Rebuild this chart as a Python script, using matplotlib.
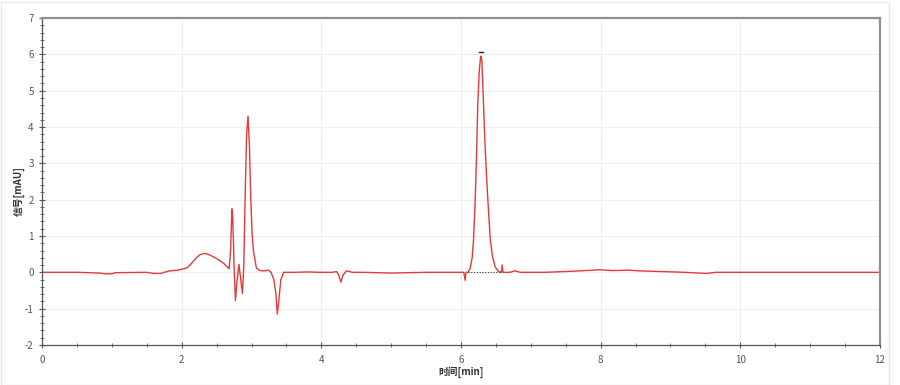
import numpy as np
import matplotlib.pyplot as plt
from matplotlib.ticker import MultipleLocator

plt.rcParams['font.family'] = ['Noto Sans CJK SC', 'DejaVu Sans']
plt.rcParams['axes.unicode_minus'] = False

# chromatogram trace (time in min, signal in mAU)
t = [0.0, 0.5, 0.83, 0.9, 1.0, 1.05, 1.5, 1.6, 1.7, 1.75, 1.83, 1.95, 2.07, 2.12,
     2.17, 2.22, 2.26, 2.30, 2.34, 2.40, 2.50, 2.60, 2.68, 2.70, 2.72, 2.73,
     2.75, 2.77, 2.79, 2.82, 2.84, 2.87, 2.89, 2.91, 2.93, 2.95, 2.97, 2.99,
     3.01, 3.03, 3.07, 3.12, 3.18, 3.24, 3.28, 3.32, 3.35, 3.37, 3.39, 3.42,
     3.46, 3.60, 3.80, 4.00, 4.15, 4.22, 4.25, 4.28, 4.31, 4.36, 4.45, 4.60,
     5.00, 5.50, 5.90, 6.04, 6.06, 6.07, 6.10, 6.13, 6.16, 6.18, 6.20, 6.22,
     6.24, 6.26, 6.28, 6.29, 6.30, 6.32, 6.34, 6.37, 6.40, 6.42, 6.45, 6.49,
     6.53, 6.57, 6.58, 6.59, 6.60, 6.70, 6.77, 6.85, 7.20, 7.60, 7.80, 7.99,
     8.15, 8.25, 8.39, 8.55, 8.90, 9.20, 9.40, 9.52, 9.65, 10.0, 10.5, 11.0,
     11.5, 12.0]
signal = [0.0, 0.0, -0.02, -0.04, -0.04, -0.01, 0.0, -0.03, -0.03, 0.0, 0.04, 0.06, 0.12, 0.2,
          0.31, 0.42, 0.48, 0.51, 0.52, 0.48, 0.38, 0.25, 0.1, 0.6, 1.75, 1.6,
          0.2, -0.78, -0.3, 0.22, -0.1, -0.58, 0.2, 2.2, 3.8, 4.3, 3.5, 2.0,
          1.0, 0.56, 0.12, 0.05, 0.04, 0.06, 0.0, -0.2, -0.6, -1.15, -0.8, -0.2,
          0.0, 0.0, 0.01, 0.0, 0.0, 0.02, -0.08, -0.27, -0.08, 0.04, 0.0, 0.0,
          -0.02, 0.0, 0.0, 0.0, -0.22, 0.0, 0.0, 0.1, 0.4, 0.9, 1.8, 3.0,
          4.6, 5.5, 5.93, 5.95, 5.8, 4.8, 3.7, 2.5, 1.5, 0.9, 0.45, 0.15,
          0.04, 0.0, 0.0, 0.2, 0.0, 0.0, 0.04, 0.0, 0.0, 0.03, 0.05, 0.07,
          0.05, 0.05, 0.06, 0.04, 0.02, 0.0, -0.02, -0.03, 0.0, 0.0, 0.0, 0.0,
          0.0, 0.0]

# integration baseline of the main peak
peak_start = 6.10
peak_end = 6.57

fig = plt.figure(figsize=(9, 3.85), dpi=100)
ax = fig.add_axes([0.0467, 0.104, 0.931, 0.849])

ax.plot(t, signal, color='#e23a3a', lw=1.0)
ax.plot([peak_start, peak_end], [0, 0], color='#333333', lw=0.8, ls=(0, (1, 1.5)))

# peak apex marker
i = int(np.argmax(signal))
ax.plot([t[i] - 0.03, t[i] + 0.03], [signal[i] + 0.12] * 2, color='#222222', lw=1.0)

ax.set_xlim(0, 12)
ax.set_ylim(-2, 7)
ax.xaxis.set_major_locator(MultipleLocator(2))
ax.xaxis.set_minor_locator(MultipleLocator(0.5))
ax.yaxis.set_major_locator(MultipleLocator(1))
ax.yaxis.set_minor_locator(MultipleLocator(0.2))
ax.grid(True, which='major', color='#eeeeee', lw=0.8)
ax.set_axisbelow(True)

ax.tick_params(which='both', direction='inout', colors='#555555', labelsize=7)
ax.tick_params(which='major', length=5)
ax.tick_params(which='minor', length=3)
ax.tick_params(axis='x', pad=5)

for s in ['left', 'bottom']:
    ax.spines[s].set_color('#555555')
    ax.spines[s].set_linewidth(0.9)
for s in ['top', 'right']:
    ax.spines[s].set_color('#909090')
    ax.spines[s].set_linewidth(1.6)

ax.set_xlabel('时间[min]', fontsize=7, fontweight='bold', color='#333333', labelpad=1)
ax.set_ylabel('信号[mAU]', fontsize=7, fontweight='bold', color='#333333', labelpad=0)
ax.yaxis.set_label_coords(-0.021, 0.47)

fig.patches.append(plt.Rectangle((0.001, 0.001), 0.987, 0.995, transform=fig.transFigure,
                                 fill=False, edgecolor='#e8e8e8', lw=1))

plt.savefig('out.png', dpi=100)
